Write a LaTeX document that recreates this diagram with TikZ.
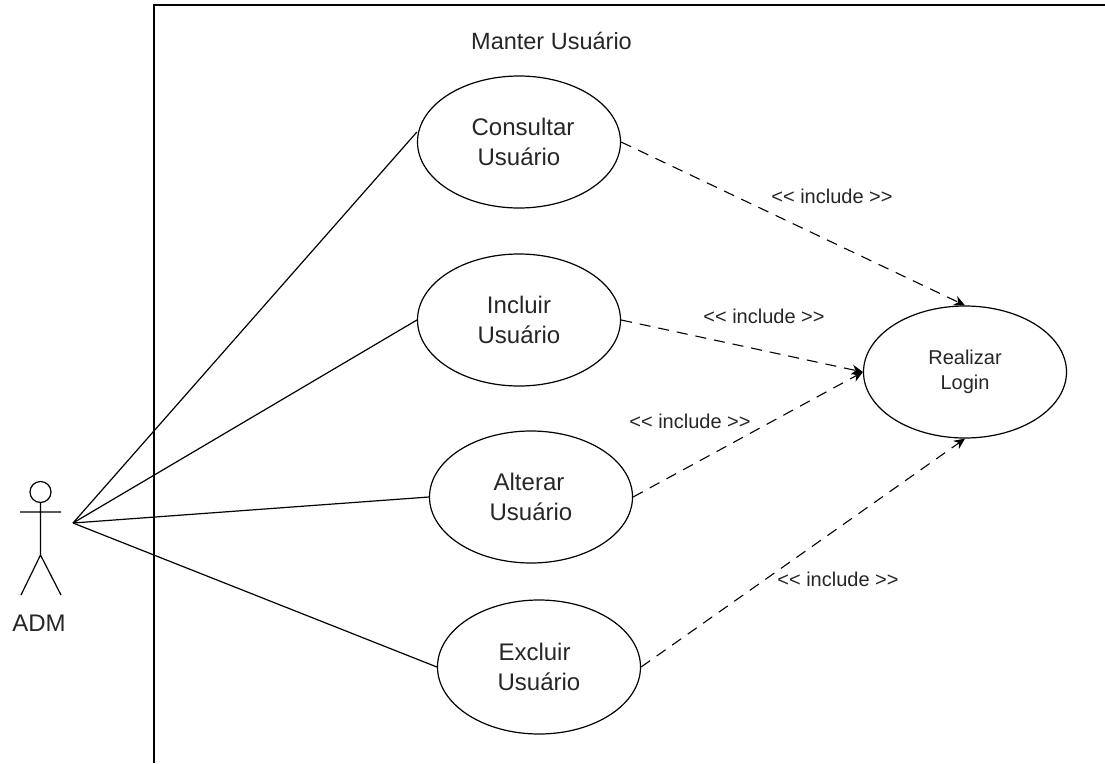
\documentclass[tikz,border=0pt]{standalone}
\usepackage{fontspec}
\setmainfont{Liberation Sans}
\usetikzlibrary{shapes.geometric,arrows.meta}
\tikzset{
 x=1pt,y=-1pt,
 uc/.style={draw,ellipse,line width=1.2pt,inner sep=0pt,align=center,text=black!85,font=\fontsize{24}{29.5}\selectfont},
 assoc/.style={draw,line width=1.2pt},
 incl/.style={draw,line width=1.1pt,dash pattern=on 11pt off 8pt,-{Stealth[length=11pt,width=10pt]}},
 lab/.style={fill=white,text=black!85,font=\fontsize{20}{23}\selectfont,inner sep=1pt},
}
\newcommand{\incltext}{{<}{<} include {>}{>}}
\begin{document}
\begin{tikzpicture}
\useasboundingbox (0,0) rectangle (1105,763);
\coordinate (tl) at (154,5);\coordinate (tr) at (1105,5);\coordinate (bl) at (154,763);
\draw[line width=1.2pt] (tr) -- (tl) -- (bl);
\node[text=black!85,font=\fontsize{23.5}{29}\selectfont,inner sep=0pt] (title) at (551.5,41) {Manter Usuário};
\node[uc,minimum width=203pt,minimum height=132pt] (c) at (519,142) {\hspace*{8pt}Consultar\\Usuário};
\node[uc,minimum width=203pt,minimum height=132pt] (i) at (519,320) {Incluir\\Usuário};
\node[uc,minimum width=203pt,minimum height=132pt] (a) at (531,497) {Alterar\hspace*{4pt}\\Usuário};
\node[uc,minimum width=203pt,minimum height=134pt] (e) at (539,667) {Excluir\hspace*{9pt}\\Usuário};
\node[uc,minimum width=203pt,minimum height=132pt,font=\fontsize{20}{25}\selectfont] (l) at (965,372) {Realizar\\Login};
\coordinate (hand) at (73,523);
\draw[assoc] (hand) -- (c.west |- 0,132);
\draw[assoc] (hand) -- (i.west);
\draw[assoc] (hand) -- (a.west);
\draw[assoc] (hand) -- (e.west);
\draw[incl] (c.east) -- (l.north);
\draw[incl] (i.east) -- (l.west);
\draw[incl] (a.east) -- (l.west);
\draw[incl] (e.east) -- (l.south);
\node[lab] (l1) at (832,196) {\incltext};
\node[lab] (l2) at (764,316) {\incltext};
\node[lab] (l3) at (690,421) {\incltext};
\node[lab] (l4) at (838,579) {\incltext};
\node[draw,circle,line width=1.2pt,minimum size=21pt,inner sep=0pt] (head) at (40.5,492) {};
\coordinate (hip) at (40.5,555);\coordinate (la) at (21,595);\coordinate (ra) at (61,595);
\coordinate (al) at (20,512);\coordinate (ar) at (61,512);
\draw[line width=1.2pt] (head) -- (hip) (al) -- (ar) (hip) -- (la) (hip) -- (ra);
\node[text=black!85,font=\fontsize{24}{29}\selectfont,inner sep=0pt] (adm) at (39,623) {ADM};
\end{tikzpicture}
\end{document}
